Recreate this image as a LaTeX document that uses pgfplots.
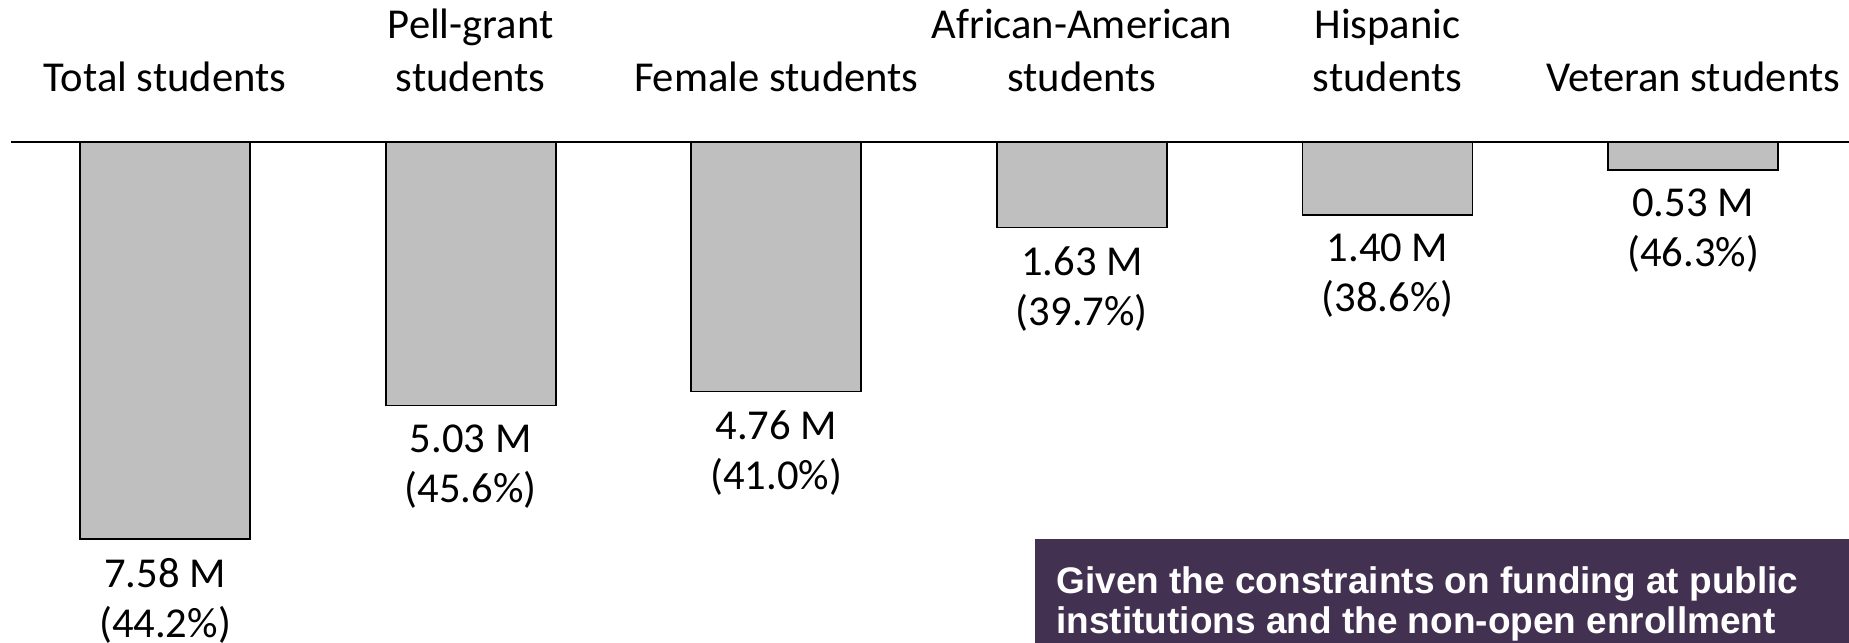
\documentclass[border=0pt]{standalone}
\usepackage{fontspec}
\setmainfont{Carlito}
\newfontfamily\boxfont{Liberation Sans}
\usepackage{pgfplots}
\pgfplotsset{compat=1.18}

\definecolor{barfill}{HTML}{BFBFBF}
\definecolor{notepurple}{RGB}{67,49,82}

\newcommand\catfont{\fontsize{21.3}{26.5}\selectfont}
\newcommand\valfont{\fontsize{21.3}{25}\selectfont}

\begin{document}
\begin{tikzpicture}
\begin{axis}[
  at={(5.5pt,0pt)}, anchor=south west,
  scale only axis, width=919pt, height=250.5pt,
  xmin=-0.504, xmax=5.51, ymin=-9.561, ymax=0,
  axis x line=top, axis y line=none,
  x axis line style={-, line width=1pt, black},
  xtick={0,1,2,3,4,5},
  xticklabels={Total students, {Pell-grant\\students}, Female students,
               {African-American\\students}, {Hispanic\\students}, Veteran students},
  xtick style={draw=none}, major tick length=0pt,
  xticklabel style={font=\catfont, align=center, anchor=south, inner sep=0pt,
                    yshift=24.8pt, text=black},
  ybar, bar width=0.556,
  nodes near coords, point meta=explicit symbolic,
  every node near coord/.append style={font=\valfont, align=center, anchor=north,
                    inner sep=0pt, yshift=-9pt, text=black},
  clip=false,
]
% enrolment (millions) with share of each group
\addplot[fill=barfill, draw=black, line width=0.9pt] coordinates {
  (0,-7.58) [7.58 M\\(44.2\%)]
  (1,-5.03) [5.03 M\\(45.6\%)]
  (2,-4.76) [4.76 M\\(41.0\%)]
  (3,-1.63) [1.63 M\\(39.7\%)]
  (4,-1.40) [1.40 M\\(38.6\%)]
  (5,-0.53) [0.53 M\\(46.3\%)]
};
\end{axis}
% note panel
\fill[notepurple] (517.5pt,-5pt) rectangle (930pt,52pt);
\node[anchor=base west, inner sep=0pt, text=white, font=\boxfont\bfseries\fontsize{18.5}{20}\selectfont]
  at (528pt,24.5pt) {Given the constraints on funding at public};
\node[anchor=base west, inner sep=0pt, text=white, font=\boxfont\bfseries\fontsize{18.5}{20}\selectfont]
  at (528pt,4.5pt) {institutions and the non-open enrollment};
\pgfresetboundingbox
\path[use as bounding box] (0,0) rectangle (924.5pt,321.5pt);
\end{tikzpicture}
\end{document}
